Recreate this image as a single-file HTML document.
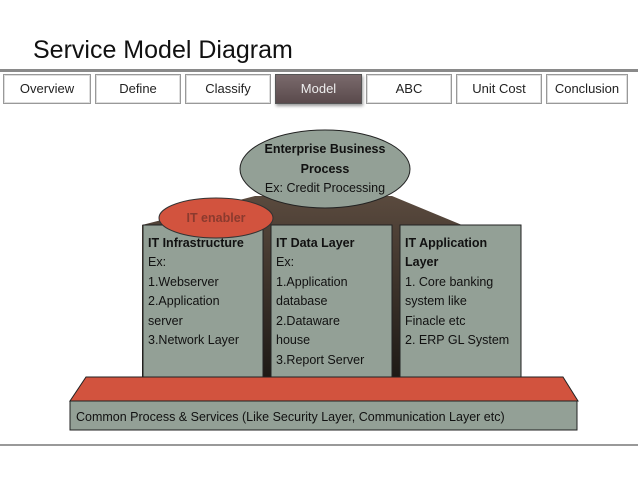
<!DOCTYPE html>
<html><head><style>
body{margin:0;width:638px;height:479px;background:#fff;position:relative;overflow:hidden;font-family:"Liberation Sans",sans-serif}
.t{position:absolute;top:74px;height:28px;border:1px solid #999;box-shadow:inset 0 0 0 1px #ddd;background:#fff;font-size:13px;line-height:28px;text-align:center;color:#222;box-sizing:content-box}
.sel{background:linear-gradient(#7a6a6c,#5a4a4c);color:#eee;border-color:#555;box-shadow:1px 2px 3px #999}
.d{font-family:"Liberation Sans","DejaVu Sans",sans-serif}
</style></head><body>
<div style="position:absolute;left:33px;top:36px;font-size:25px;color:#111">Service Model Diagram</div>
<div style="position:absolute;left:0;top:69px;width:638px;height:3px;background:#8a8a8a"></div>
<div class="t" style="left:3px;width:86px">Overview</div>
<div class="t" style="left:95px;width:84px">Define</div>
<div class="t" style="left:185px;width:84px">Classify</div>
<div class="t sel" style="left:275px;width:85px">Model</div>
<div class="t" style="left:366px;width:84px">ABC</div>
<div class="t" style="left:456px;width:84px">Unit Cost</div>
<div class="t" style="left:546px;width:80px">Conclusion</div>
<svg width="638" height="479" style="position:absolute;left:0;top:0">
<defs><linearGradient id="g" x1="0" y1="0" x2="0" y2="1"><stop offset="0" stop-color="#5a4a3e"/><stop offset="1" stop-color="#1e1a16"/></linearGradient></defs>
<polygon points="255,196 392,196 462,225 462,377 142,377 142,225" fill="url(#g)"/>
<ellipse cx="325" cy="169" rx="85" ry="39" fill="#93a096" stroke="#222" stroke-width="1"/>
<rect x="143" y="225" width="120" height="152" fill="#93a096" stroke="#222"/>
<rect x="271" y="225" width="121" height="152" fill="#93a096" stroke="#222"/>
<rect x="400" y="225" width="121" height="152" fill="#93a096" stroke="#222"/>
<ellipse cx="216" cy="218" rx="57" ry="20" fill="#d2533e" stroke="#333"/>
<polygon points="86,377 563,377 578,401 70,401" fill="#d2533e" stroke="#222"/>
<rect x="70" y="401" width="507" height="29" fill="#93a096" stroke="#222"/>
<line x1="0" y1="445" x2="638" y2="445" stroke="#999" stroke-width="2"/>
<g font-family="Liberation Sans, DejaVu Sans, sans-serif" font-size="12.5" fill="#111">
<text x="325" y="153" text-anchor="middle" font-weight="bold">Enterprise Business</text>
<text x="325" y="173" text-anchor="middle" font-weight="bold">Process</text>
<text x="325" y="192" text-anchor="middle">Ex: Credit Processing</text>
<text x="216" y="222" text-anchor="middle" font-weight="bold" fill="#8b3a2e">IT enabler</text>
<text x="148" y="247" font-weight="bold">IT Infrastructure</text>
<text x="148" y="266">Ex:</text><text x="148" y="286">1.Webserver</text><text x="148" y="305">2.Application</text><text x="148" y="325">server</text><text x="148" y="344">3.Network Layer</text>
<text x="276" y="247" font-weight="bold">IT Data Layer</text>
<text x="276" y="266">Ex:</text><text x="276" y="286">1.Application</text><text x="276" y="305">database</text><text x="276" y="325">2.Dataware</text><text x="276" y="344">house</text><text x="276" y="364">3.Report Server</text>
<text x="405" y="247" font-weight="bold">IT Application</text>
<text x="405" y="266" font-weight="bold">Layer</text>
<text x="405" y="286">1. Core banking</text><text x="405" y="305">system like</text><text x="405" y="325">Finacle etc</text><text x="405" y="344">2. ERP GL System</text>
<text x="76" y="421">Common Process &amp; Services (Like Security Layer, Communication Layer etc)</text>
</g>
</svg>
</body></html>
